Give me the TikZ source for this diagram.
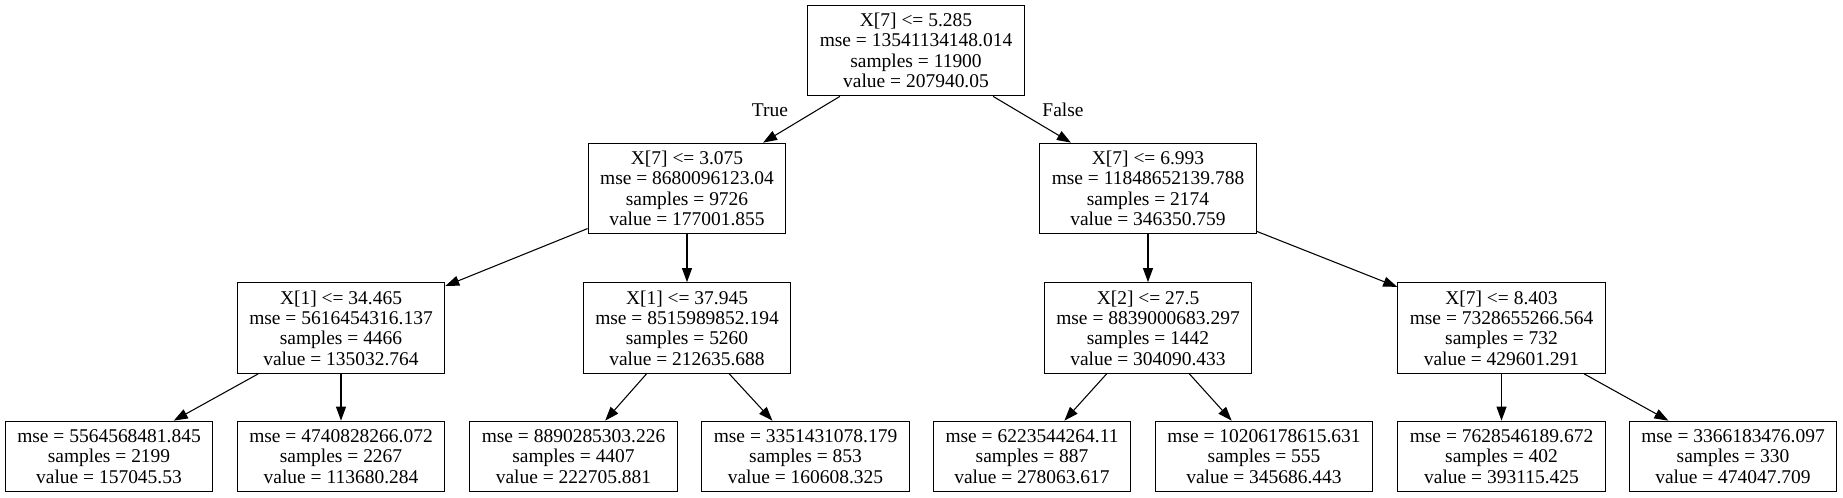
\documentclass[tikz,border=0pt]{standalone}
\usepackage{fontspec}
\setmainfont{Liberation Serif}
\usetikzlibrary{arrows.meta}

\begin{document}
\begin{tikzpicture}[x=0.75pt,y=-0.75pt,>={Triangle[length=10.5pt,width=7.5pt]}]
	\tikzstyle{split}=[rectangle,draw,line width=0.8pt,align=center,inner xsep=9pt,inner ysep=2pt,minimum height=68pt,font=\fontsize{14.6}{15.2}\selectfont]
	\tikzstyle{leaf}=[split,minimum height=53pt]
	\tikzstyle{branch}=[font=\fontsize{14.6}{15.2}\selectfont]
	\useasboundingbox (0,0) rectangle (1843,497);
	% root and first split
	\node[split] (root) at (916,50.5) {X[7] <= 5.285\\mse = 13541134148.014\\samples = 11900\\value = 207940.05};
	\node[split] (lo) at (687,188.5) {X[7] <= 3.075\\mse = 8680096123.04\\samples = 9726\\value = 177001.855};
	\node[split] (hi) at (1148,188.5) {X[7] <= 6.993\\mse = 11848652139.788\\samples = 2174\\value = 346350.759};
	% second level
	\node[split] (lolo) at (341,328) {X[1] <= 34.465\\mse = 5616454316.137\\samples = 4466\\value = 135032.764};
	\node[split] (lohi) at (687,328) {X[1] <= 37.945\\mse = 8515989852.194\\samples = 5260\\value = 212635.688};
	\node[split] (hilo) at (1148,328) {X[2] <= 27.5\\mse = 8839000683.297\\samples = 1442\\value = 304090.433};
	\node[split] (hihi) at (1501.5,328) {X[7] <= 8.403\\mse = 7328655266.564\\samples = 732\\value = 429601.291};
	% leaves
	\node[leaf] (l1) at (109,456.5) {mse = 5564568481.845\\samples = 2199\\value = 157045.53};
	\node[leaf] (l2) at (341,456.5) {mse = 4740828266.072\\samples = 2267\\value = 113680.284};
	\node[leaf] (l3) at (573.5,456.5) {mse = 8890285303.226\\samples = 4407\\value = 222705.881};
	\node[leaf] (l4) at (805.5,456.5) {mse = 3351431078.179\\samples = 853\\value = 160608.325};
	\node[leaf] (l5) at (1032,456.5) {mse = 6223544264.11\\samples = 887\\value = 278063.617};
	\node[leaf] (l6) at (1264,456.5) {mse = 10206178615.631\\samples = 555\\value = 345686.443};
	\node[leaf] (l7) at (1501.5,456.5) {mse = 7628546189.672\\samples = 402\\value = 393115.425};
	\node[leaf] (l8) at (1733,456.5) {mse = 3366183476.097\\samples = 330\\value = 474047.709};
	\node[branch] (true) at (770,110) {True};
	\node[branch] (false) at (1063,110) {False};

	\draw[->,line width=0.8pt] (root) -- (lo);
	\draw[->,line width=0.8pt] (root) -- (hi);
	\draw[->,line width=0.8pt] (lo) -- (lolo);
	\draw[->,line width=0.8pt] (lo) -- (lohi);
	\draw[->,line width=0.8pt] (hi) -- (hilo);
	\draw[->,line width=0.8pt] (hi) -- (hihi);
	\draw[->,line width=0.8pt] (lolo) -- (l1);
	\draw[->,line width=0.8pt] (lolo) -- (l2);
	\draw[->,line width=0.8pt] (lohi) -- (l3);
	\draw[->,line width=0.8pt] (lohi) -- (l4);
	\draw[->,line width=0.8pt] (hilo) -- (l5);
	\draw[->,line width=0.8pt] (hilo) -- (l6);
	\draw[->,line width=0.8pt] (hihi) -- (l7);
	\draw[->,line width=0.8pt] (hihi) -- (l8);
\end{tikzpicture}
\end{document}
